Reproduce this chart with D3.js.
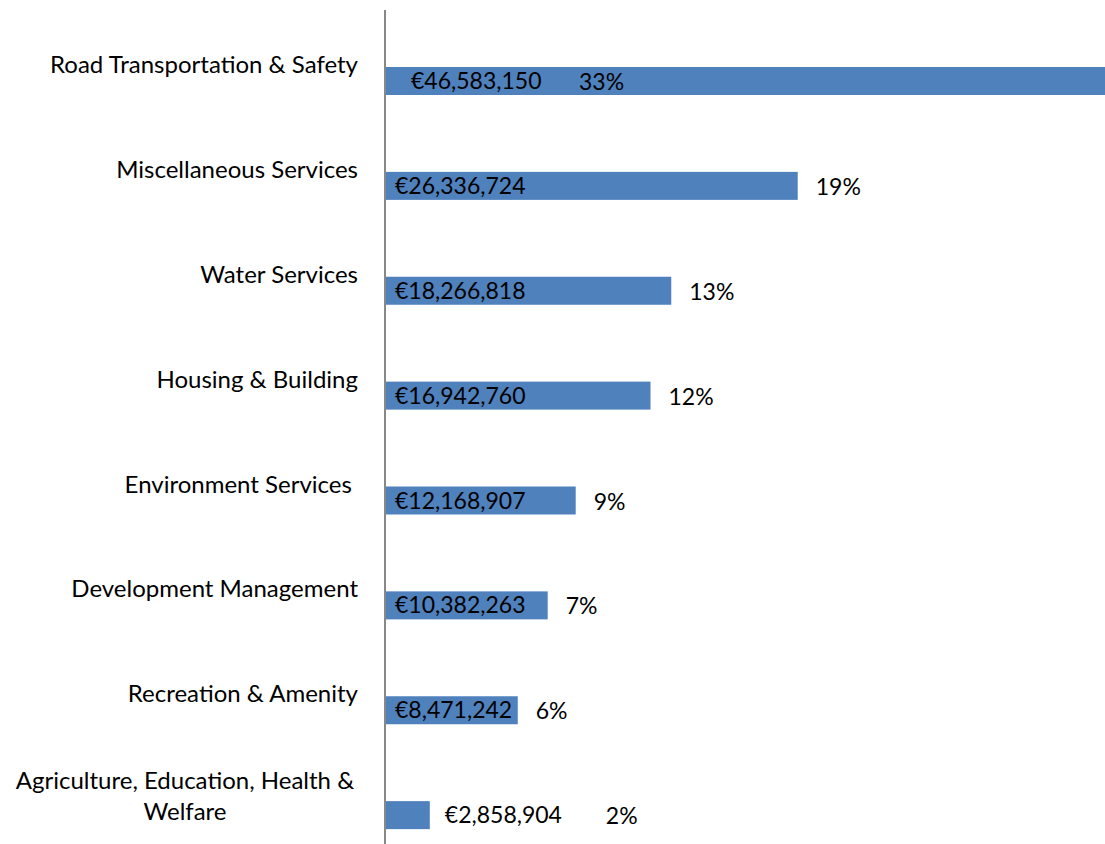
<!DOCTYPE html>
<html>
<head>
<meta charset="utf-8">
<script src="https://cdn.jsdelivr.net/npm/d3@7"></script>
<style>
  body { margin: 0; background: #fff; }
  text { font-family: Lato, "Open Sans", sans-serif; fill: #000; white-space: pre; }
</style>
</head>
<body>
<svg id="canvas" width="1105" height="844"></svg>
<script>
let categories = [
  'Road Transportation & Safety',
  'Miscellaneous Services',
  'Water Services',
  'Housing & Building',
  'Environment Services ',
  'Development Management',
  'Recreation & Amenity',
  'Agriculture, Education, Health & Welfare'
]
let values = [46583150, 26336724, 18266818, 16942760, 12168907, 10382263, 8471242, 2858904]
let percents = ['33%', '19%', '13%', '12%', '9%', '7%', '6%', '2%']

let width = 1105, height = 844
let axisX = 385
let canvas = d3.select('#canvas')

// biggest bar runs past the right edge (clipped like the original)
let x = d3.scaleLinear()
  .domain([0, d3.max(values)])
  .range([axisX, 1115])

let y = d3.scaleBand()
  .domain(categories)
  .range([10, 849])

let barH = 28
let barOff = 57
let fmt = v => '€' + d3.format(',')(v)
let catSize = 24, valSize = 23

let rows = categories.map((c, i) => ({ cat: c, value: values[i], pct: percents[i] }))

canvas.selectAll('rect.bar')
  .data(rows)
  .enter()
  .append('rect')
  .attr('class', 'bar')
  .attr('x', x(0))
  .attr('y', d => y(d.cat) + barOff)
  .attr('width', d => x(d.value) - x(0))
  .attr('height', barH)
  .attr('fill', '#4f81bd')

// vertical axis line
canvas.append('line')
  .attr('x1', axisX).attr('x2', axisX)
  .attr('y1', 10).attr('y2', height)
  .attr('stroke', '#888')
  .attr('stroke-width', 2)

// category labels, long one wrapped on two lines
canvas.selectAll('text.cat')
  .data(rows)
  .enter()
  .append('text')
  .attr('class', 'cat')
  .style('font-size', catSize + 'px')
  .each(function (d) {
    let t = d3.select(this)
    if (d.cat.length <= 30) {
      t.attr('text-anchor', 'end')
      t.append('tspan').attr('x', 358).attr('y', y(d.cat) + 63).text(d.cat)
    } else {
      let lines = ['Agriculture, Education, Health &', 'Welfare']
      t.attr('text-anchor', 'middle')
      lines.forEach((l, k) => {
        t.append('tspan').attr('x', 185).attr('y', y(d.cat) + 45 + k * 31).text(l)
      })
    }
  })

let small = d => x(d.value) - x(0) < 100

// value labels
canvas.selectAll('text.val')
  .data(rows)
  .enter()
  .append('text')
  .attr('class', 'val')
  .style('font-size', valSize + 'px')
  .attr('x', d => {
    if (small(d)) return x(d.value) + 15
    if (x(d.value) > width) return x(0) + 26
    return x(0) + 10
  })
  .attr('y', d => y(d.cat) + barOff + barH / 2 + 8)
  .text(d => fmt(d.value))

// percentage labels
canvas.selectAll('text.pct')
  .data(rows)
  .enter()
  .append('text')
  .attr('class', 'pct')
  .style('font-size', valSize + 'px')
  .attr('x', d => {
    if (x(d.value) > width) return x(0) + 194
    if (small(d)) return x(d.value) + 176
    return x(d.value) + 18
  })
  .attr('y', d => y(d.cat) + barOff + barH / 2 + 9)
  .text(d => d.pct)
</script>
</body>
</html>
